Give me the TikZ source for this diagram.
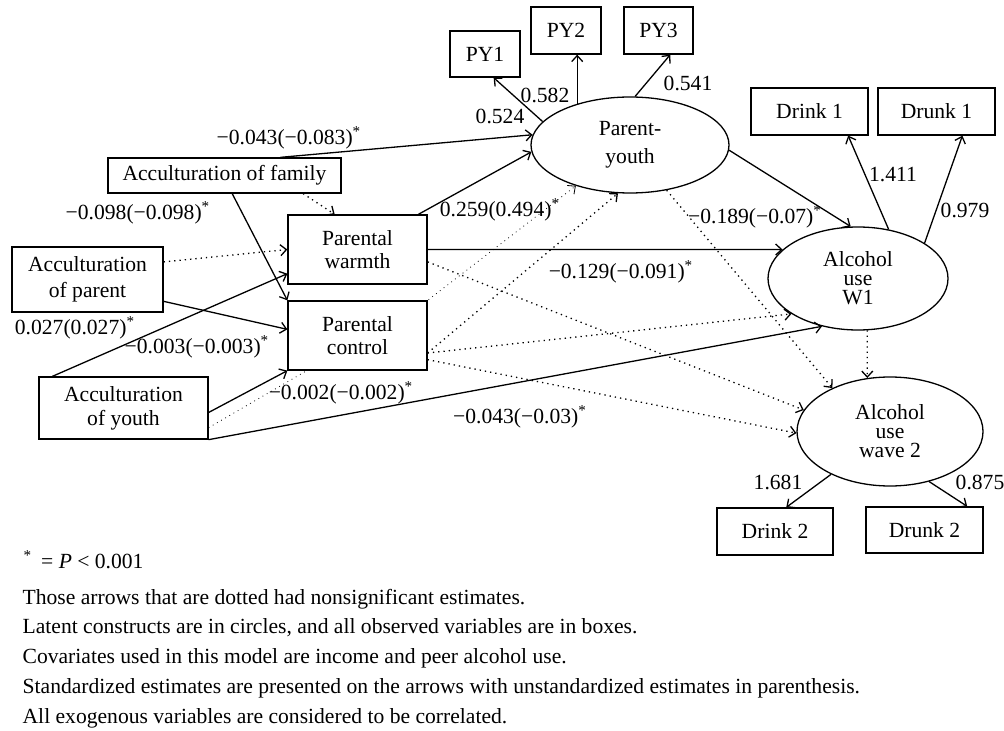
\documentclass[tikz,border=0pt]{standalone}
\usepackage{fontspec}
\setmainfont{Liberation Serif}
\usetikzlibrary{shapes.geometric,arrows.meta,backgrounds}

\begin{document}
\begin{tikzpicture}[x=0.5pt,y=-0.5pt,line width=0.65pt,
    font=\fontsize{10.8}{12}\selectfont,
    >={Straight Barb[length=3pt,width=5.5pt]},
    box/.style={draw,fill=white,align=center,inner sep=0pt},
    latent/.style={draw,fill=white,ellipse,align=center,inner sep=0pt},
    sig/.style={->},
    ns/.style={->,dotted},
    note/.style={anchor=base west,inner sep=0pt}]
    \useasboundingbox (0,0) rectangle (1004,731);
    \node[box,minimum width=35pt,minimum height=23pt] (py1) at (485,54) {PY1};
    \node[box,minimum width=35pt,minimum height=23.5pt] (py2) at (566,30.5) {PY2};
    \node[box,minimum width=34.5pt,minimum height=23.5pt] (py3) at (658.5,30.5) {PY3};
    \node[box,minimum width=58.5pt,minimum height=23.5pt] (d1) at (809.5,111.5) {Drink 1};
    \node[box,minimum width=58.5pt,minimum height=23.5pt] (k1) at (936.5,111.5) {Drunk 1};
    \node[box,minimum width=58pt,minimum height=23.5pt] (d2) at (775,531.5) {Drink 2};
    \node[box,minimum width=58.5pt,minimum height=23pt] (k2) at (924.5,530) {Drunk 2};
    \node[box,minimum width=116.5pt,minimum height=17.5pt] (fam) at (224.5,175.5) {Acculturation of family};
    \node[box,minimum width=69.5pt,minimum height=34.5pt,font=\fontsize{10.8}{11.5}\selectfont] (pw) at (357.5,249.5) {Parental\\warmth};
    \node[box,minimum width=75.5pt,minimum height=32.5pt,font=\fontsize{10.8}{13}\selectfont] (pa) at (87.5,279.5) {Acculturation\\of parent};
    \node[box,minimum width=69.5pt,minimum height=34.5pt,font=\fontsize{10.8}{11.5}\selectfont] (pc) at (357.5,335.5) {Parental\\control};
    \node[box,minimum width=84.5pt,minimum height=31pt] (ay) at (123.5,408) {Acculturation\\of youth};
    \node[latent,minimum width=99pt,minimum height=48pt,font=\fontsize{10.8}{14}\selectfont] (py) at (630,145) {Parent-\\youth};
    \node[latent,minimum width=90pt,minimum height=51.5pt,font=\fontsize{10.8}{9.5}\selectfont] (w1) at (858,278.5) {Alcohol\\use\\W1};
    \node[latent,minimum width=93pt,minimum height=54.5pt,font=\fontsize{10.8}{9.5}\selectfont] (w2) at (890,431.5) {Alcohol\\use\\wave 2};

    \draw[sig] (py.165) -- (py1.-70);
    \draw[sig] (py.142) -- (py.142 |- py2.south);
    \draw[sig] (py.84) -- (py3.-64);
    \draw[sig] (fam.18) -- (py.174);
    \draw[sig] (pw.30) -- (py.184);
    \draw[ns] (fam.-13) -- (pw.123);
    \draw[sig] (fam.-67) -- (pc.north west);
    \draw[ns] (pa.13) -- (pw.west);
    \draw[sig] (pa.-16) -- (pc.175);
    \draw[sig] (ay.156) -- (pw.199);
    \draw[sig] (ay.-3) -- (pc.south west);
    \begin{scope}[on background layer]
        \draw[ns] (ay.-13) -- (pc.north east) -- (py.217);
    \end{scope}
    \draw[ns] (pc.-14) -- (py.256);
    \draw[ns] (pc.-14) -- (w1.208);
    \draw[ns] (pc.-19) -- (w2.181);
    \draw[ns] (pw.-10) -- (w2.166);
    \draw[ns] (py.-51) -- (w2.143);
    \draw[ns] (w1.-80) -- (w2.113);
    \draw[sig] (pw.east) -- (w1.159);
    \draw[sig] (py.-3) -- (w1.98);
    \draw[sig] (ay.south east) -- (w1.233);
    \draw[sig] (w1.58) -- (d1.-32);
    \draw[sig] (w1.28) -- (k1.-43);
    \draw[sig] (w2.216) -- (d2.65);
    \draw[sig] (w2.-52) -- (k2.29);

    \draw (500,116) node (l1) {0.524};
    \draw (545,95) node (l2) {0.582};
    \draw (688,83) node (l3) {0.541};
    \draw (289,138) node (l4) {−0.043(−0.083)\textsuperscript{*}};
    \draw (138,213) node (l5) {−0.098(−0.098)\textsuperscript{*}};
    \draw (500,210) node (l6) {0.259(0.494)\textsuperscript{*}};
    \draw (75,328) node (l7) {0.027(0.027)\textsuperscript{*}};
    \draw (197,347) node (l8) {−0.003(−0.003)\textsuperscript{*}};
    \draw (341,393) node (l9) {−0.002(−0.002)\textsuperscript{*}};
    \draw (621,272) node (l10) {−0.129(−0.091)\textsuperscript{*}};
    \draw (520,417) node (l11) {−0.043(−0.03)\textsuperscript{*}};
    \draw (755,217) node (l12) {−0.189(−0.07)\textsuperscript{*}};
    \draw (893,175) node (l13) {1.411};
    \draw (965,210) node (l14) {0.979};
    \draw (778,482) node (l15) {1.681};
    \draw (980,482) node (l16) {0.875};

    \draw (23,568) node[note] (n0) {\textsuperscript{*}\, = \textit{P} < 0.001};
    \draw (22,604) node[note] (n1) {Those arrows that are dotted had nonsignificant estimates.};
    \draw (22,633.5) node[note] (n2) {Latent constructs are in circles, and all observed variables are in boxes.};
    \draw (22,663.5) node[note] (n3) {Covariates used in this model are income and peer alcohol use.};
    \draw (22,693.5) node[note] (n4) {Standardized estimates are presented on the arrows with unstandardized estimates in parenthesis.};
    \draw (22,723) node[note] (n5) {All exogenous variables are considered to be correlated.};
\end{tikzpicture}
\end{document}
